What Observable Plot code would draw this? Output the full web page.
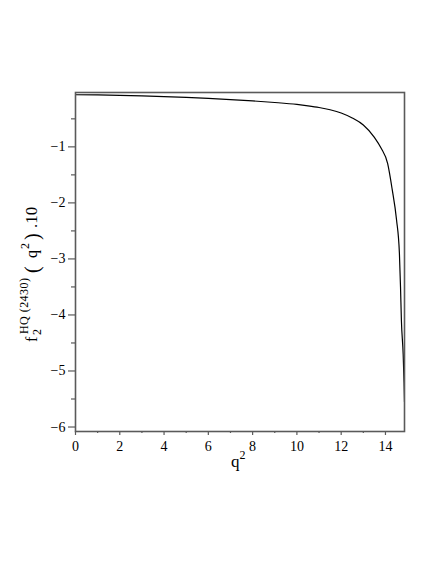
<!DOCTYPE html>
<html>
<head>
<meta charset="utf-8">
<script src="https://cdn.jsdelivr.net/npm/d3@7"></script>
<script src="https://cdn.jsdelivr.net/npm/@observablehq/plot@0.6"></script>
<style>
  html, body { margin: 0; padding: 0; background: white; }
  #chart svg { display: block; }
</style>
</head>
<body>
<div id="chart"></div>
<script>
// Data
const q2 = [0, 1, 2, 3, 4, 5, 6, 7, 8, 9, 10, 10.5, 11, 11.5, 12, 12.5, 13, 13.5, 13.8, 14.1, 14.3, 14.5, 14.63, 14.68, 14.72, 14.8, 14.84, 14.86];
const f2 = [-0.070, -0.074, -0.080, -0.090, -0.103, -0.118, -0.136, -0.156, -0.180, -0.208, -0.243, -0.268, -0.298, -0.338, -0.395, -0.485, -0.61, -0.83, -1.02, -1.30, -1.75, -2.30, -2.90, -3.50, -4.10, -4.70, -5.20, -5.55];
const xMajorTicks = [0, 2, 4, 6, 8, 10, 12, 14];
const xMinorTicks = [1, 3, 5, 7, 9, 11, 13];
const yMajorTicks = [-1, -2, -3, -4, -5, -6];
const yMinorTicks = [-0.5, -1.5, -2.5, -3.5, -4.5, -5.5];
const xDomain = [0, 14.86];
const yDomain = [-6.08, -0.03];

const data = q2.map((x, i) => ({q2: x, f: f2[i]}));
const font = "Liberation Serif, Times New Roman, serif";
const axisColor = "#5a5a5a";
const fmt = d => (d < 0 ? "\u2212" : "") + Math.abs(d);

const plot = Plot.plot({
  width: 436,
  height: 564,
  marginLeft: 75,
  marginRight: 32,
  marginTop: 92,
  marginBottom: 133,
  style: {fontFamily: font, fontSize: "13px", background: "white", color: "black"},
  x: {domain: xDomain, label: null},
  y: {domain: yDomain, label: null},
  marks: [
    Plot.axisX(xMajorTicks, {tickSize: 4, tickPadding: 6, stroke: axisColor, strokeWidth: 1.2, fill: "black", label: null, tickFormat: fmt, fontFamily: font, fontSize: 14}),
    Plot.axisX(xMinorTicks, {tickSize: 2, text: null, stroke: axisColor, strokeWidth: 1.2, label: null}),
    Plot.axisY(yMajorTicks, {tickSize: 7, tickPadding: 3, stroke: axisColor, strokeWidth: 1.2, fill: "black", label: null, tickFormat: fmt, fontFamily: font, fontSize: 14}),
    Plot.axisY(yMinorTicks, {tickSize: 4, text: null, stroke: axisColor, strokeWidth: 1.2, label: null}),
    Plot.line(data, {x: "q2", y: "f", stroke: "black", strokeWidth: 1.2, curve: "monotone-x", clip: true}),
    Plot.frame({stroke: axisColor, strokeWidth: 1.6})
  ]
});

const svg = d3.select(plot).attr("font-family", font);

// x-axis title: q^2
const xt = svg.append("text")
  .attr("x", 231).attr("y", 467)
  .attr("text-anchor", "start")
  .style("font-family", font).attr("font-size", 17).attr("fill", "black");
xt.append("tspan").text("q");
xt.append("tspan").attr("dy", -8).attr("font-size", 12).text("2");

// y-axis title: f_2^{HQ (2430)} (q^2).10, rotated
const g = svg.append("g").attr("transform", "translate(37,342) rotate(-90)");
const yt = g.append("text").attr("text-anchor", "start")
  .style("font-family", font).attr("font-size", 16).attr("fill", "black");
yt.append("tspan").attr("x", 0).attr("y", 0).text("f");
yt.append("tspan").attr("x", 7).attr("y", 4).attr("font-size", 12).text("2");
yt.append("tspan").attr("x", 8).attr("y", -9).attr("font-size", 12)
  .attr("textLength", 56).attr("lengthAdjust", "spacing").text("HQ (2430)");
yt.append("tspan").attr("x", 69).attr("y", 2).attr("font-size", 20).text("(");
yt.append("tspan").attr("x", 84).attr("y", 0).text("q");
yt.append("tspan").attr("x", 93).attr("y", -8).attr("font-size", 12).text("2");
yt.append("tspan").attr("x", 102).attr("y", 2).attr("font-size", 20).text(")");
yt.append("tspan").attr("x", 114).attr("y", 0).attr("font-size", 17).text(".10");

document.getElementById("chart").appendChild(plot);
</script>
</body>
</html>
